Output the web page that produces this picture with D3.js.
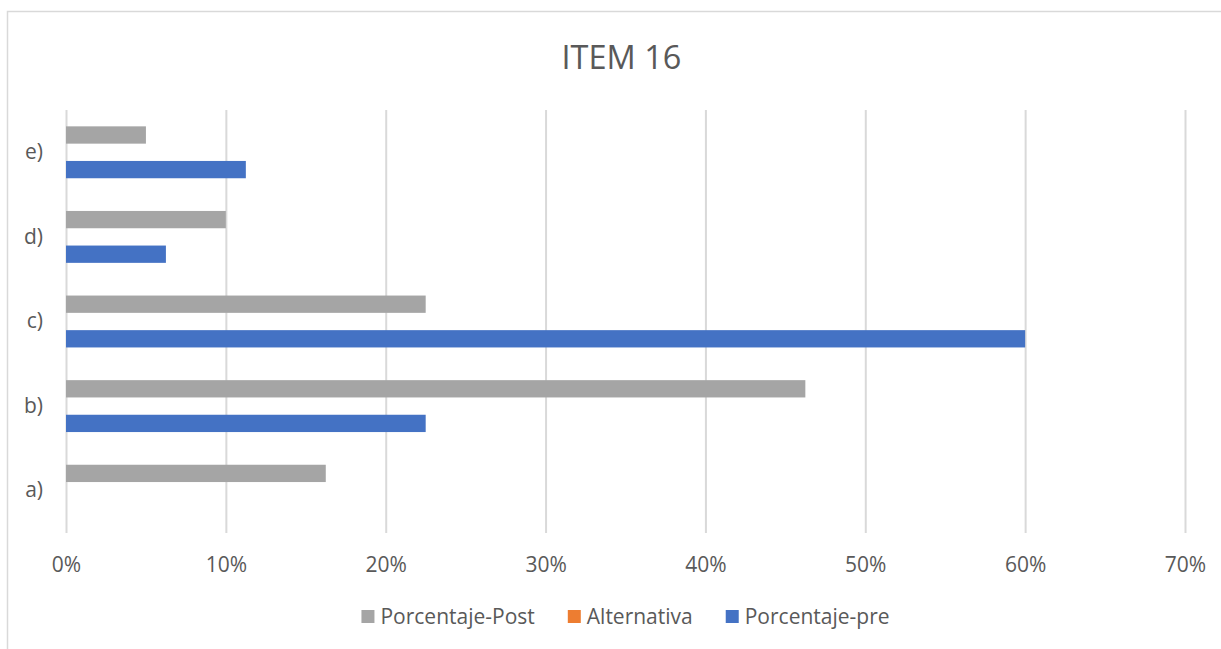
<!DOCTYPE html>
<html><head><meta charset="utf-8">
<script src="https://cdn.jsdelivr.net/npm/d3@7"></script>
<style>html,body{margin:0;padding:0;background:#fff;overflow:hidden}</style>
</head><body>
<svg id="chart" width="1221" height="649"></svg>
<script>
const categories = ["a)", "b)", "c)", "d)", "e)"];
const seriesNames = ["Porcentaje-Post", "Alternativa", "Porcentaje-pre"];
const postValues = [16.25, 46.25, 22.5, 10, 5];
const altValues = [0, 0, 0, 0, 0];
const preValues = [0, 22.5, 60, 6.25, 11.25];
const xTicks = [0, 10, 20, 30, 40, 50, 60, 70];
const colors = ["#A5A5A5", "#ED7D31", "#4472C4"];
const title = "ITEM 16";

const font = "'Open Sans', sans-serif";
const txt = "#595959";
const svg = d3.select("#chart");

svg.append("rect").attr("x", 7.5).attr("y", 11.5).attr("width", 1230).attr("height", 650)
  .attr("fill", "#fff").attr("stroke", "#D9D9D9").attr("stroke-width", 1.5);

const x = d3.scaleLinear().domain([0, 70]).range([66, 1185]);
const y = d3.scaleBand().domain(categories.slice().reverse()).range([110, 533]);
const sub = d3.scaleBand().domain(seriesNames).range([0, y.bandwidth()]).paddingInner(0).paddingOuter(0.945);

// gridlines
const xAxis = d3.axisBottom(x).tickValues(xTicks).tickFormat(d => d + "%").tickSize(-(533 - 110)).tickSizeOuter(0);
const gx = svg.append("g").attr("transform", "translate(0,533)").call(xAxis);
gx.select(".domain").remove();
gx.selectAll(".tick line").attr("stroke", "#D9D9D9").attr("stroke-width", 2);
gx.selectAll(".tick text").attr("fill", txt).attr("font-family", font).attr("font-size", 21)
  .attr("y", 0).attr("dy", 0).attr("transform", "translate(0,39)");

// category axis
const yAxis = d3.axisLeft(y).tickSize(0).tickPadding(0);
const gy = svg.append("g").attr("transform", "translate(43,0)").call(yAxis);
gy.select(".domain").remove();
gy.selectAll(".tick text").attr("fill", txt).attr("font-family", font).attr("font-size", 21).attr("dy", "0.32em");

// bars
const data = categories.map((c, i) => ({cat: c, vals: [postValues[i], altValues[i], preValues[i]]}));
const groups = svg.append("g").selectAll("g").data(data).join("g")
  .attr("transform", d => `translate(0,${y(d.cat)})`);
groups.selectAll("rect").data(d => d.vals.map((v, j) => ({name: seriesNames[j], v, j})))
  .join("rect")
  .attr("x", x(0))
  .attr("y", d => sub(d.name))
  .attr("height", sub.bandwidth())
  .attr("width", d => x(d.v) - x(0))
  .attr("fill", d => colors[d.j]);

// title
svg.append("text").attr("x", 621.5).attr("y", 69).attr("text-anchor", "middle")
  .attr("font-family", font).attr("font-size", 32.5).attr("fill", txt).text(title);

// legend
const lg = svg.append("g");
let cx = 0;
seriesNames.forEach((n, i) => {
  const g = lg.append("g").attr("transform", `translate(${cx},0)`);
  g.append("rect").attr("x", 0).attr("y", 610).attr("width", 13).attr("height", 13).attr("fill", colors[i]);
  const t = g.append("text").attr("x", 19).attr("y", 624).attr("font-family", font).attr("font-size", 21)
    .attr("fill", txt).text(n);
  cx += 19 + t.node().getComputedTextLength() + 33;
});
const total = cx - 33;
lg.attr("transform", `translate(${625.5 - total / 2},0)`);
</script>
</body></html>
